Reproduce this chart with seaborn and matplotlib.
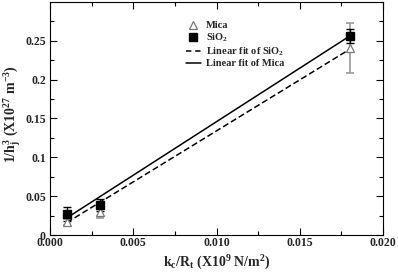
import matplotlib
matplotlib.use("Agg")
import matplotlib.pyplot as plt
import seaborn as sns
import pandas as pd
from matplotlib.ticker import MultipleLocator, FormatStrFormatter

# measured points
x_pts = [0.001, 0.003, 0.018]
mica_y = [0.017, 0.030, 0.241]
mica_err = [0.004, 0.008, 0.032]
sio2_y = [0.027, 0.039, 0.256]
sio2_err = [0.009, 0.008, 0.009]

# fit lines (end points)
fit_x = [0.001, 0.018]
fit_sio2 = [0.016, 0.239]
fit_mica = [0.022, 0.256]

sns.set_theme(style="ticks")
plt.rcParams["font.family"] = ["Liberation Serif", "DejaVu Serif"]
plt.rcParams["font.weight"] = "bold"
plt.rcParams["mathtext.fontset"] = "custom"
plt.rcParams["mathtext.rm"] = "Liberation Serif:bold"
plt.rcParams["mathtext.it"] = "Liberation Serif:bold"
plt.rcParams["mathtext.bf"] = "Liberation Serif:bold"
plt.rcParams["mathtext.default"] = "rm"

fig = plt.figure(figsize=(3.98, 2.73), dpi=100)
ax = fig.add_axes([0.126, 0.139, 0.836, 0.854])

fits = pd.DataFrame({"x": fit_x * 2,
                     "y": fit_sio2 + fit_mica,
                     "fit": ["Linear fit of SiO$_2$"] * 2 + ["Linear fit of Mica"] * 2})

ax.errorbar(x_pts, mica_y, yerr=mica_err, fmt="none", ecolor="#999999",
            elinewidth=1.2, capsize=3, capthick=1.2, zorder=2)
ax.errorbar(x_pts, sio2_y, yerr=sio2_err, fmt="none", ecolor="black",
            elinewidth=1.0, capsize=3, capthick=1.0, zorder=2)

sns.lineplot(data=fits, x="x", y="y", style="fit",
             dashes={"Linear fit of SiO$_2$": (4, 2), "Linear fit of Mica": ""},
             color="black", linewidth=1.1, ax=ax, legend=False, zorder=3)

ax.plot(x_pts, mica_y, linestyle="none", marker="^", markersize=6,
        markerfacecolor="white", markeredgecolor="#777777", markeredgewidth=0.9,
        label="Mica", zorder=4)
ax.plot(x_pts, sio2_y, linestyle="none", marker="s", markersize=6,
        color="black", label="SiO$_2$", zorder=4)
ax.plot([], [], color="black", linestyle=(0, (3.5, 2.5)), linewidth=1.1,
        label="Linear fit of SiO$_2$")
ax.plot([], [], color="black", linestyle="-", linewidth=1.1,
        label="Linear fit of Mica")

ax.set_xlim(0, 0.020)
ax.set_ylim(0, 0.3)
ax.xaxis.set_major_locator(MultipleLocator(0.005))
ax.xaxis.set_minor_locator(MultipleLocator(0.0025))
ax.xaxis.set_major_formatter(FormatStrFormatter("%.3f"))
ax.yaxis.set_major_locator(MultipleLocator(0.05))
ax.yaxis.set_minor_locator(MultipleLocator(0.025))
ax.set_yticks([0, 0.05, 0.1, 0.15, 0.2, 0.25])
ax.set_yticklabels(["0", "0.05", "0.1", "0.15", "0.2", "0.25"])
ax.tick_params(which="both", direction="in", top=True, right=True,
               labelsize=8.5, color="black", width=0.8)
ax.tick_params(which="major", length=5)
ax.tick_params(which="minor", length=3)
ax.tick_params(axis="x", which="major", pad=1.5)
ax.tick_params(axis="y", which="major", pad=3)
for lab in ax.get_xticklabels() + ax.get_yticklabels():
    lab.set_fontweight("bold")
for s in ax.spines.values():
    s.set_linewidth(0.8)
    s.set_color("black")

ax.set_xlabel("k$_c$/R$_t$ (X10$^9$ N/m$^2$)", fontsize=10, fontweight="bold", labelpad=3)
ax.set_ylabel("1/h$_j^3$ (X10$^{27}$ m$^{-3}$)", fontsize=10, fontweight="bold")
ax.yaxis.set_label_coords(-0.082, 0.52)

ax.legend(loc="upper left", bbox_to_anchor=(0.385, 0.95), frameon=False,
          handlelength=1.5, handletextpad=0.5, labelspacing=0.12,
          borderpad=0.2, prop={"weight": "bold", "size": 7.5})

fig.savefig("out.png", dpi=100)
